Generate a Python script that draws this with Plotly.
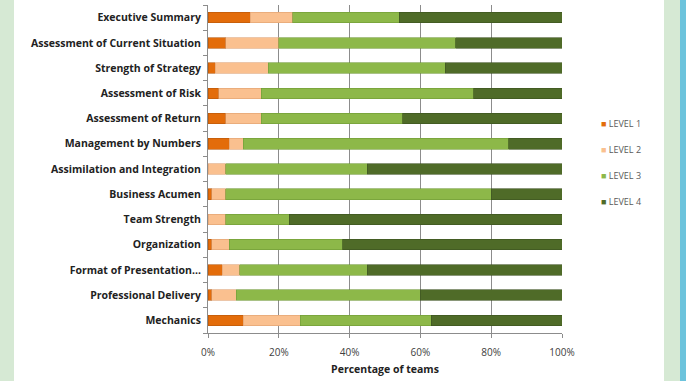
import plotly.graph_objects as go

categories = ["Executive Summary", "Assessment of Current Situation", "Strength of Strategy",
              "Assessment of Risk", "Assessment of Return", "Management by Numbers",
              "Assimilation and Integration", "Business Acumen", "Team Strength",
              "Organization", "Format of Presentation...", "Professional Delivery", "Mechanics"]
level1 = [12, 5, 2, 3, 5, 6, 0, 1, 0, 1, 4, 1, 10]
level2 = [12, 15, 15, 12, 10, 4, 5, 4, 5, 5, 5, 7, 16]
level3 = [30, 50, 50, 60, 40, 75, 40, 75, 18, 32, 36, 52, 37]
level4 = [46, 30, 33, 25, 45, 15, 55, 20, 77, 62, 55, 40, 37]
series_names = ["LEVEL 1", "LEVEL 2", "LEVEL 3", "LEVEL 4"]
colors = ["#E36C0A", "#FAC08F", "#8DB849", "#4F6B28"]
line_colors = ["#B5560A", "#E0A070", "#6F9A35", "#3C5220"]
tick_x = [0, 20, 40, 60, 80, 100]

L, R, T, B = 208, 124, 5, 48
W, H = 686, 381
pw = W - L - R
ph = H - T - B

def px2paper(x):
    return (x - L) / pw

def py2paper(y):
    return 1 - (y - T) / ph

legend_y = [123, 149, 175, 201]

fig = go.Figure()
for i, (name, vals, c, lc) in enumerate(zip(series_names, [level1, level2, level3, level4], colors, line_colors)):
    fig.add_trace(go.Bar(y=categories, x=vals, name=name, orientation="h", showlegend=False,
                         marker=dict(color=c, line=dict(color=lc, width=0.6))))
for i, (name, c, lc) in enumerate(zip(series_names, colors, line_colors)):
    lg = "legend" if i == 0 else f"legend{i+1}"
    label = f"<span style='color:{c}'>■</span> {name}"
    fig.add_trace(go.Scatter(x=[None], y=[None], mode="markers", name=label, legend=lg,
                             marker=dict(symbol="square", size=1, color="rgba(0,0,0,0)",
                                         line=dict(width=0, color="rgba(0,0,0,0)"))))

legend_common = dict(xanchor="left", yanchor="middle", font=dict(size=9, color="#595959"),
                     itemwidth=30, bgcolor="rgba(0,0,0,0)", borderwidth=0)
layout_legends = {}
for i, yy in enumerate(legend_y):
    key = "legend" if i == 0 else f"legend{i+1}"
    layout_legends[key] = dict(x=px2paper(561), y=py2paper(yy), **legend_common)

fig.update_layout(
    width=W, height=H, barmode="stack", bargap=0.58,
    margin=dict(l=L, r=R, t=T, b=B),
    paper_bgcolor="#D6E9D4", plot_bgcolor="rgba(0,0,0,0)",
    font=dict(family="Open Sans", color="#222222"),
    xaxis=dict(range=[0, 100], tickvals=tick_x, ticktext=[f"{v}%" for v in tick_x],
               showgrid=True, gridcolor="#8C8C8C", gridwidth=1, zeroline=False,
               showline=True, linecolor="#8C8C8C", linewidth=1, ticks="outside", ticklen=4,
               tickcolor="#8C8C8C", ticklabelstandoff=6,
               tickfont=dict(size=10, color="#404040"),
               title=dict(text="<b>Percentage of teams</b>", font=dict(size=10.5, color="#222222"), standoff=7)),
    yaxis=dict(autorange="reversed", showline=True, linecolor="#8C8C8C", linewidth=1,
               ticks="outside", ticklen=4, tickcolor="#8C8C8C", tickson="boundaries",
               tickfont=dict(size=10.5, color="#222222", family="Open Sans"), ticklabelstandoff=4),
    shapes=[
        dict(type="rect", xref="paper", yref="paper", x0=px2paper(14), x1=px2paper(664),
             y0=-1, y1=2, fillcolor="white", line=dict(width=0), layer="below"),
        dict(type="rect", xref="paper", yref="paper", x0=px2paper(680), x1=px2paper(690),
             y0=-1, y1=2, fillcolor="#6CC3DC", line=dict(width=0), layer="below"),
    ],
    **layout_legends,
)
fig.update_yaxes(ticktext=[f"<b>{c}</b>" for c in categories], tickvals=categories)
fig.write_html("out.html")
